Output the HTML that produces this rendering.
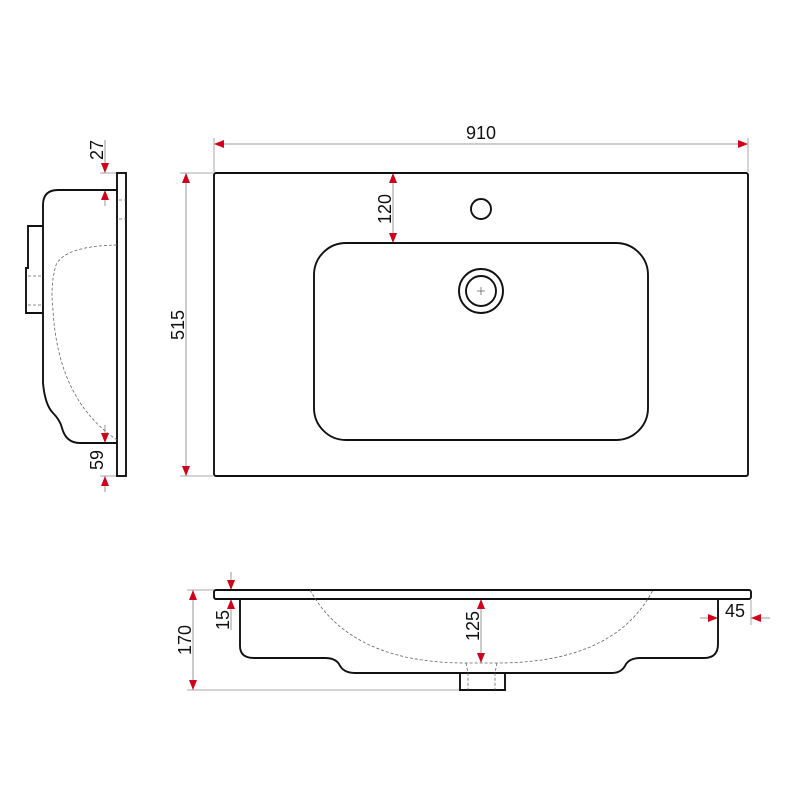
<!DOCTYPE html>
<html><head><style>body{margin:0;background:#fff}svg{display:block}text{font-family:"Liberation Sans",sans-serif;font-size:18px;fill:#111}</style></head><body>
<svg width="800" height="800" viewBox="0 0 800 800" xmlns="http://www.w3.org/2000/svg">
<defs>
<marker id="a" viewBox="0 0 10 8" refX="10" refY="4" markerWidth="10" markerHeight="8" markerUnits="userSpaceOnUse" orient="auto-start-reverse"><path d="M0,0L10,4L0,8z" fill="#d0021b"/></marker>
</defs>
<g stroke="#aaa" stroke-width="1" fill="none">
<line x1="214" y1="138" x2="214" y2="172"/><line x1="748" y1="138" x2="748" y2="172"/>
<line x1="180" y1="173" x2="213" y2="173"/><line x1="180" y1="476" x2="213" y2="476"/>
<line x1="100" y1="173" x2="117" y2="173"/><line x1="100" y1="190" x2="117" y2="190"/>
<line x1="100" y1="443" x2="117" y2="443"/><line x1="100" y1="476" x2="117" y2="476"/>
<line x1="187" y1="590" x2="214" y2="590"/><line x1="187" y1="690" x2="460" y2="690"/>
<line x1="225" y1="599" x2="240" y2="599"/>
<line x1="751" y1="600" x2="751" y2="625"/>
</g>
<g stroke="#999" stroke-width="1" fill="none">
<line x1="214" y1="144" x2="748" y2="144" marker-start="url(#a)" marker-end="url(#a)"/>
<line x1="186" y1="173" x2="186" y2="476" marker-start="url(#a)" marker-end="url(#a)"/>
<line x1="393" y1="173" x2="393" y2="243" marker-start="url(#a)" marker-end="url(#a)"/>
<line x1="105" y1="140" x2="105" y2="173" marker-end="url(#a)"/>
<line x1="105" y1="206" x2="105" y2="190" marker-end="url(#a)"/>
<line x1="105" y1="425" x2="105" y2="443" marker-end="url(#a)"/>
<line x1="105" y1="492" x2="105" y2="476" marker-end="url(#a)"/>
<line x1="193" y1="590" x2="193" y2="690" marker-start="url(#a)" marker-end="url(#a)"/>
<line x1="231" y1="572" x2="231" y2="590" marker-end="url(#a)"/>
<line x1="231" y1="630" x2="231" y2="599" marker-end="url(#a)"/>
<line x1="481" y1="599" x2="481" y2="663" marker-start="url(#a)" marker-end="url(#a)"/>
<line x1="700" y1="618" x2="718" y2="618" marker-end="url(#a)"/>
<line x1="770" y1="618" x2="751" y2="618" marker-end="url(#a)"/>
</g>
<g stroke="#111" stroke-width="1.9" fill="none">
<rect x="214" y="173" width="534" height="303" rx="2"/>
<rect x="314" y="243" width="334" height="197" rx="32"/>
<circle cx="481" cy="209" r="10"/>
<circle cx="481" cy="291" r="22"/><circle cx="481" cy="291" r="15"/>
<rect x="117" y="173" width="9" height="303"/>
<path d="M117,190 H58 Q43,190 43,205 V383 Q45,405 53,413 Q60,420 62,428 Q66,443 80,443 H117"/>
<path d="M43,226 H28 V268 H26 V313 H43"/>
<rect x="214" y="590" width="537" height="9" rx="2"/>
<path d="M240,599 V646 Q240,658 254,658 H325 Q335,658 339,664 Q343,673 355,673 H612 Q622,673 626,664 Q630,658 640,658 H704 Q718,658 718,644 V599"/>
<path d="M460,673 V690 H505 V673"/>
</g>
<g stroke="#666" stroke-width="0.8" fill="none" stroke-dasharray="3,2">
<path d="M117,245 Q65,246 56,265 Q50,285 53,310 Q58,400 117,440"/>
<line x1="28" y1="276" x2="43" y2="276"/><line x1="28" y1="305" x2="43" y2="305"/>
<line x1="119" y1="200" x2="126" y2="200"/><line x1="119" y1="219" x2="126" y2="219"/>
<path d="M310,590 Q350,663 466,663 H497 Q615,663 653,590"/>
<path d="M466,663 L468,673 V690 M497,663 L495,673 V690"/>
</g>
<line x1="477" y1="291" x2="485" y2="291" stroke="#555" stroke-width="0.7"/>
<line x1="481" y1="287" x2="481" y2="295" stroke="#555" stroke-width="0.7"/>
<text x="481" y="139" text-anchor="middle">910</text>
<text transform="translate(184,325) rotate(-90)" text-anchor="middle">515</text>
<text transform="translate(391,209) rotate(-90)" text-anchor="middle">120</text>
<text transform="translate(103,150) rotate(-90)" text-anchor="middle">27</text>
<text transform="translate(103,460) rotate(-90)" text-anchor="middle">59</text>
<text transform="translate(191,640) rotate(-90)" text-anchor="middle">170</text>
<text transform="translate(229,620) rotate(-90)" text-anchor="middle">15</text>
<text transform="translate(479,626) rotate(-90)" text-anchor="middle">125</text>
<text x="735" y="617" text-anchor="middle">45</text>
</svg>
</body></html>
